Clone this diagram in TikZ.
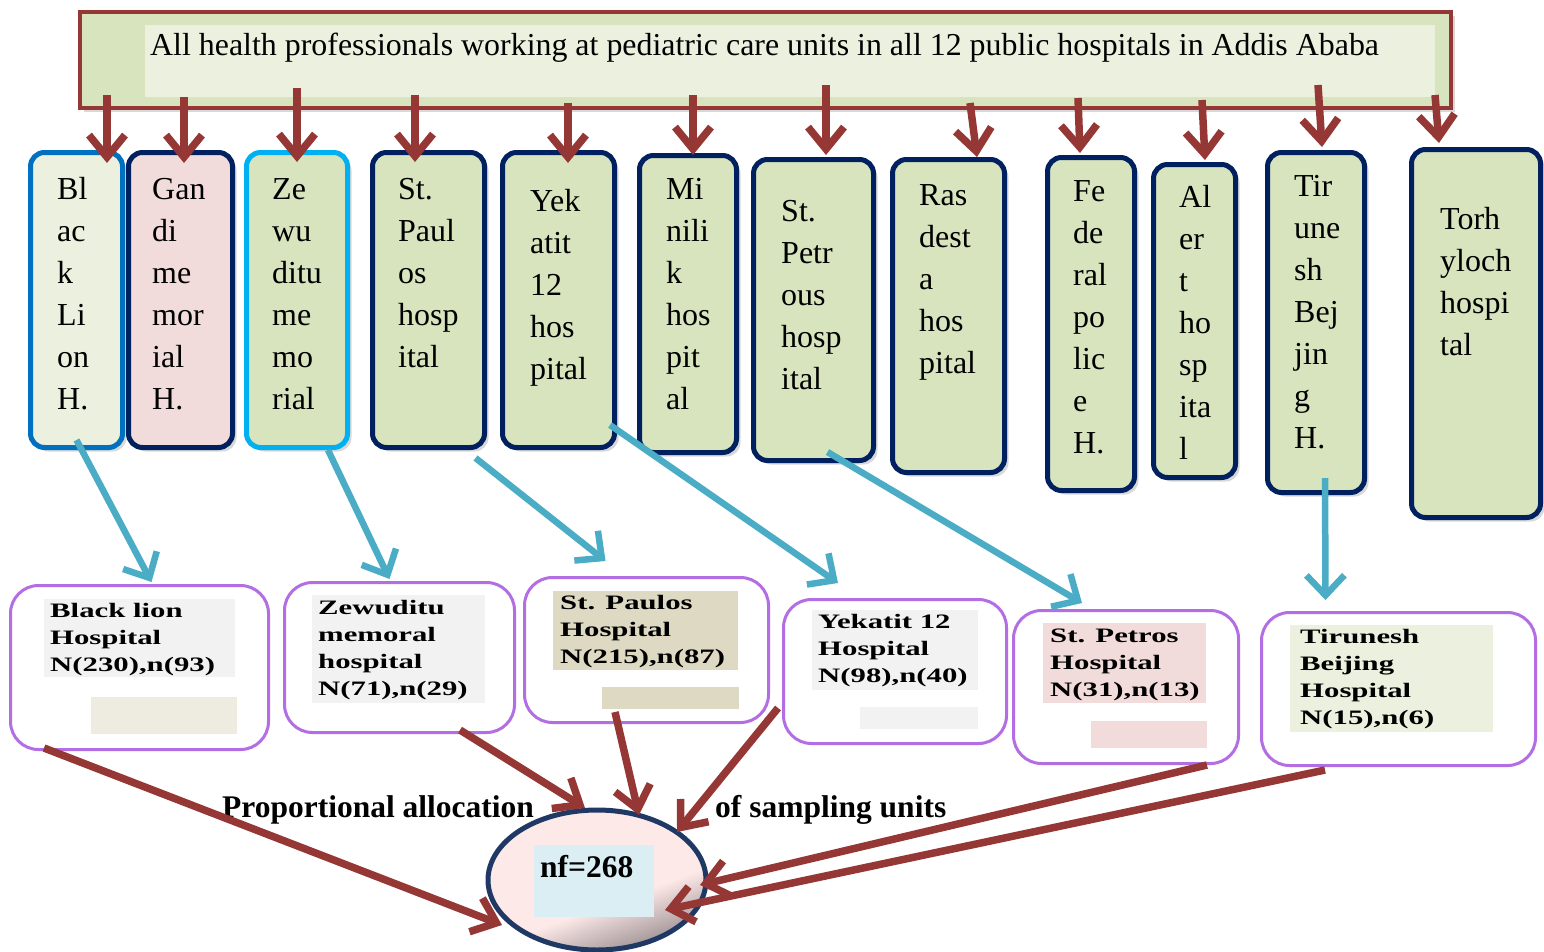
\documentclass[tikz,border=0pt]{standalone}
\usepackage{fontspec}
\setmainfont{Liberation Serif}
\newfontfamily\wideb{Liberation Serif}[FakeStretch=1.5]
\usetikzlibrary{arrows.meta,calc,shapes.geometric,shadows}
\definecolor{dred}{HTML}{953735}
\definecolor{navy}{HTML}{002060}
\definecolor{mblue}{HTML}{0070C0}
\definecolor{cyanb}{HTML}{00B0F0}
\definecolor{gfill}{HTML}{D7E4BD}
\definecolor{lgfill}{HTML}{EBF1DE}
\definecolor{pfill}{HTML}{F2DCDB}
\definecolor{purp}{RGB}{180,110,228}
\definecolor{barr}{HTML}{4BACC6}
\definecolor{grayone}{HTML}{F2F2F2}
\definecolor{tanone}{HTML}{DDD9C3}
\definecolor{tantwo}{HTML}{EEECE1}
\definecolor{elpink}{HTML}{FDE9E8}
\definecolor{elgray}{HTML}{9D9093}
\definecolor{elblue}{HTML}{DAEEF3}
\definecolor{elline}{HTML}{1F3864}
\newcommand\stk[1]{\begin{tabular}[t]{@{}l@{}}#1\end{tabular}}
\pgfdeclareverticalshading{elsh}{100bp}{color(0bp)=(elgray); color(25bp)=(elgray); color(42bp)=(elpink); color(100bp)=(elpink)}
% column box: name, x1, y1, x2, y2, border, fill
\newcommand\hbx[7]{\node[colbox, draw=#6, fill=#7, minimum width={#4-#2-5}, minimum height={#5-#3-5}] (#1) at ({(#2+#4)/2},{(#3+#5)/2}) {};}
% lavender box
\newcommand\bbx[5]{\node[rbox, minimum width={#4-#2-3}, minimum height={#5-#3-3}] (#1) at ({(#2+#4)/2},{(#3+#5)/2}) {};}
% plain filled rectangle
\newcommand\rbx[6]{\node[fill=#6, draw=none, inner sep=0, minimum width={#4-#2}, minimum height={#5-#3}] (#1) at ({(#2+#4)/2},{(#3+#5)/2}) {};}
\begin{document}
\begin{tikzpicture}[x=1pt,y=-1pt,
  colbox/.style={rounded corners=14pt, line width=5pt, inner sep=0,
    drop shadow={shadow xshift=4pt, shadow yshift=-4pt, opacity=0.3}},
  rbox/.style={draw=purp, line width=3pt, rounded corners=28pt, fill=white, inner sep=0},
  ctext/.style={anchor=base west, inner sep=0, font=\fontsize{32}{42}\selectfont},
  btext/.style={anchor=base west, inner sep=0, font=\wideb\bfseries\fontsize{20.5}{27}\selectfont},
  redarr/.style={draw=dred, line width=7.5pt, -{Straight Barb[length=22pt, width=36pt]}},
  bluearr/.style={draw=barr, line width=6.5pt, -{Straight Barb[length=20pt, width=38pt]}},
  lbl/.style={anchor=base west, inner sep=0, font=\bfseries\fontsize{31.5}{36}\selectfont}]
\fill[white] (0,0) rectangle (1544,951);
\useasboundingbox (0,0) rectangle (1544,951);

% top box
\node[draw=dred, line width=4pt, fill=gfill, minimum width=1371, minimum height=96, inner sep=0,
  drop shadow={shadow xshift=4pt, shadow yshift=-4pt, opacity=0.3}] (top) at (765.5,60) {};
\rbx{topin}{145}{25}{1435}{97}{lgfill}
\node[anchor=base west, inner sep=0, font=\fontsize{31.9}{36}\selectfont] (toptext) at (150,55)
  {All health professionals working at pediatric care units in all 12 public hospitals in Addis Ababa};

% hospital columns
\hbx{c1}{28}{150}{125}{450}{mblue}{lgfill}
\hbx{c2}{126}{150}{235}{450}{navy}{pfill}
\hbx{c3}{244}{150}{350}{450}{cyanb}{gfill}
\hbx{c4}{370}{150}{487}{450}{navy}{gfill}
\hbx{c5}{500}{150}{617}{450}{navy}{gfill}
\hbx{c6}{637}{153}{739}{455}{navy}{gfill}
\hbx{c7}{751}{157}{876}{463}{navy}{gfill}
\hbx{c8}{890}{157}{1007}{475}{navy}{gfill}
\hbx{c9}{1045}{155}{1137}{493}{navy}{gfill}
\hbx{c10}{1151}{162}{1238}{480}{navy}{gfill}
\hbx{c11}{1265}{150}{1367}{495}{navy}{gfill}
\hbx{c12}{1409}{147}{1543}{520}{navy}{gfill}

\node[ctext] (t1) at (57,199) {\stk{Bl\\ac\\k\\Li\\on\\H.}};
\node[ctext] (t2) at (152,199) {\stk{Gan\\di\\me\\mor\\ial\\H.}};
\node[ctext] (t3) at (272,199) {\stk{Ze\\wu\\ditu\\me\\mo\\rial}};
\node[ctext] (t4) at (398,199) {\stk{St.\\Paul\\os\\hosp\\ital}};
\node[ctext] (t5) at (530,211) {\stk{Yek\\atit\\12\\hos\\pital}};
\node[ctext] (t6) at (666,199) {\stk{Mi\\nili\\k\\hos\\pit\\al}};
\node[ctext] (t7) at (781,221) {\stk{St.\\Petr\\ous\\hosp\\ital}};
\node[ctext] (t8) at (919,205) {\stk{Ras\\dest\\a\\hos\\pital}};
\node[ctext] (t9) at (1073,201) {\stk{Fe\\de\\ral\\po\\lic\\e\\H.}};
\node[ctext] (t10) at (1179,207) {\stk{Al\\er\\t\\ho\\sp\\ita\\l}};
\node[ctext] (t11) at (1294,196) {\stk{Tir\\une\\sh\\Bej\\jin\\g\\H.}};
\node[ctext] (t12) at (1440,229) {\stk{Torh\\yloch\\hospi\\tal}};

% red arrows from the top box
\draw[redarr] ($(top.south -| c1.north)+(30.5,-15)$) -- ($(c1.north)+(30.5,13)$);
\draw[redarr] ($(top.south -| c2.north)+(3.5,-13)$) -- ($(c2.north)+(3.5,13)$);
\draw[redarr] ($(top.south -| c3.north)+(0,-22)$) -- ($(c3.north)+(0,12)$);
\draw[redarr] ($(top.south -| c4.north)+(-13.5,-15)$) -- ($(c4.north)+(-13.5,12)$);
\draw[redarr] ($(top.south -| c5.north)+(9.5,-7)$) -- ($(c5.north)+(9.5,13)$);
\draw[redarr] ($(top.south -| c6.north)+(5,-15)$) -- ($(c6.north)+(5,2)$);
\draw[redarr] ($(top.south -| c7.north)+(12.5,-25)$) -- ($(c7.north)+(12.5,-2)$);
\draw[redarr] ($(top.south -| c8.north)+(21.5,-7)$) -- ($(c8.north)+(28.5,0)$);
\draw[redarr] ($(top.south -| c9.north)+(-13,-12)$) -- ($(c9.north)+(-11,-2)$);
\draw[redarr] ($(top.south -| c10.north)+(7.5,-10)$) -- ($(c10.north)+(10.5,-2)$);
\draw[redarr] ($(top.south -| c11.north)+(2,-25)$) -- ($(c11.north)+(6,-3)$);
\draw[redarr] ($(top.south -| c12.north)+(-41,-15)$) -- ($(c12.north)+(-37,-4)$);

% sample boxes
\bbx{b1}{9}{584}{270}{751}
\bbx{b2}{283}{581}{516}{734}
\bbx{b3}{523}{576}{770}{724}
\bbx{b4}{782}{598}{1008}{745}
\bbx{b5}{1012}{609}{1240}{765}
\bbx{b6}{1260}{611}{1537}{767}

\rbx{g1}{44}{599}{235}{677}{grayone}
\rbx{g1b}{91}{697}{237}{734}{tantwo}
\rbx{g2}{312}{595}{485}{703}{grayone}
\rbx{g3}{553}{591}{738}{670}{tanone}
\rbx{g3b}{602}{687}{739}{709}{tanone}
\rbx{g4}{812}{610}{978}{690}{grayone}
\rbx{g4b}{860}{707}{978}{729}{grayone}
\rbx{g5}{1043}{623}{1206}{703}{pfill}
\rbx{g5b}{1091}{721}{1207}{748}{pfill}
\rbx{g6}{1290}{625}{1493}{732}{lgfill}

\node[btext] (bt1) at (50,617) {\stk{Black lion\\Hospital\\N(230),n(93)}};
\node[btext] (bt2) at (318,614) {\stk{Zewuditu\\memoral\\hospital\\N(71),n(29)}};
\node[btext] (bt3) at (560,609) {\stk{St. Paulos\\Hospital\\N(215),n(87)}};
\node[btext] (bt4) at (818,628) {\stk{Yekatit 12\\Hospital\\N(98),n(40)}};
\node[btext] (bt5) at (1050,642) {\stk{St. Petros\\Hospital\\N(31),n(13)}};
\node[btext] (bt6) at (1300,643) {\stk{Tirunesh\\Beijing\\Hospital\\N(15),n(6)}};

% blue arrows
\draw[bluearr] ($(c1.south)+(0,-10)$) -- ($(b1.north)+(12,-2)$);
\draw[bluearr] ($(c3.south)+(31,0)$) -- ($(b2.north)+(-10,-2)$);
\draw[bluearr] ($(c4.south)+(47,8)$) -- ($(b3.north)+(-41,-15)$);
\draw[bluearr] ($(c5.south east)+(-7,-25)$) -- ($(b4.north)+(-57,-15)$);
\draw[bluearr] ($(c7.south)+(14,-11)$) -- ($(b5.north)+(-44,-6)$);
\draw[bluearr] ($(c11.south)+(9,-17)$) -- ($(b6.north)+(-73,-11)$);

% final sample
\node[ellipse, draw=elline, line width=5pt, shade, shading=elsh, shading angle=20,
  minimum width=218, minimum height=140, inner sep=0] (nf) at (597,880) {};
\rbx{nfb}{534}{845}{654}{917}{elblue}
\node[lbl] (nft) at (540,877) {nf=268};
\node[lbl] (lab1) at (222,817) {Proportional allocation};
\node[lbl] (lab2) at (715,817) {of sampling units};

% red arrows to the final sample
\draw[redarr] ($(b1.south west)+(35,-3)$) -- ($(nf.center)+(-95,45)$);
\draw[redarr] ($(b2.south west)+(177,-4)$) -- ($(nf.center)+(-12,-72)$);
\draw[redarr] ($(b3.south west)+(92,-12)$) -- ($(nf.center)+(42,-65)$);
\draw[redarr] ($(b4.south west)+(-4,-37)$) -- ($(nf.center)+(80,-48)$);
\draw[redarr] ($(b5.south west)+(195,0)$) -- ($(nf.center)+(103,5)$);
\draw[redarr] ($(b6.south west)+(65,3)$) -- ($(nf.center)+(68,30)$);
\end{tikzpicture}
\end{document}
